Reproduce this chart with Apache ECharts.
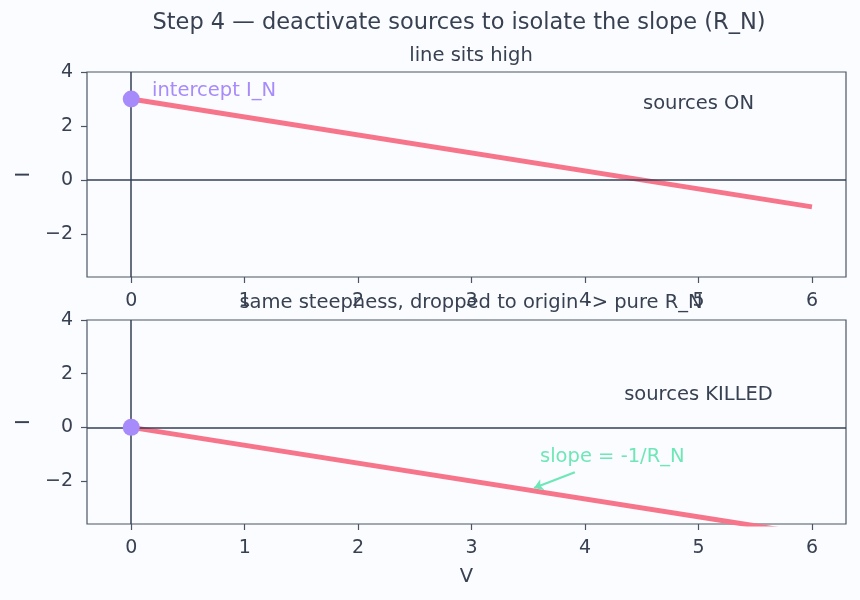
<!DOCTYPE html>
<html>
<head>
<meta charset="utf-8">
<script src="https://cdn.jsdelivr.net/npm/echarts@6/dist/echarts.min.js"></script>
<style>
  html, body { margin: 0; padding: 0; background: #fbfcff; }
  #chart { width: 860px; height: 600px; }
</style>
</head>
<body>
<div id="chart"></div>
<script>
  // data
  var lineOn = [[0, 3], [6, -1]];
  var lineKilled = [[0, 0], [6, -4]];
  var interceptOn = [[0, 3]];
  var interceptKilled = [[0, 0]];
  var xTicks = [0, 1, 2, 3, 4, 5, 6];
  var yTicks = [-2, 0, 2, 4];
  var slopeArrow = [[3.91, -1.67], [3.55, -2.26]];

  var textColor = '#374151';
  var spineColor = '#4b5563';
  var fontFamily = 'DejaVu Sans';

  var chart = echarts.init(document.getElementById('chart'));

  function xAxis(idx, name) {
    return {
      type: 'value', gridIndex: idx, min: -0.39, max: 6.3,
      name: name, nameLocation: 'middle', nameGap: 43,
      nameTextStyle: { color: textColor, fontSize: 19.5, fontFamily: fontFamily },
      axisLine: { show: false, onZero: false },
      axisTick: { show: true, inside: false, length: 6, customValues: xTicks, lineStyle: { color: spineColor, width: 1.2 } },
      axisLabel: { customValues: xTicks, color: textColor, fontSize: 19, fontFamily: fontFamily, margin: 15 },
      splitLine: { show: false }
    };
  }
  function yAxis(idx) {
    return {
      type: 'value', gridIndex: idx, min: -3.6, max: 4,
      name: 'I', nameLocation: 'middle', nameGap: 52, nameRotate: 90,
      nameTextStyle: { color: textColor, fontSize: 19.5, fontFamily: fontFamily },
      axisLine: { show: false, onZero: false },
      axisTick: { show: true, inside: false, length: 6, customValues: yTicks, lineStyle: { color: spineColor, width: 1.2 } },
      axisLabel: {
        customValues: yTicks, color: textColor, fontSize: 19, fontFamily: fontFamily, margin: 14,
        formatter: function (v) { return v < 0 ? '\u2212' + Math.abs(v) : String(v); }
      },
      splitLine: { show: false }
    };
  }
  function zeroLines() {
    return {
      silent: true, symbol: 'none', label: { show: false },
      lineStyle: { color: '#334155', width: 1.5, type: 'solid' },
      data: [{ xAxis: 0 }, { yAxis: 0 }]
    };
  }
  function textPoint(idx, pos, text, color) {
    return {
      type: 'scatter', xAxisIndex: idx, yAxisIndex: idx, symbolSize: 0, silent: true,
      data: [pos], itemStyle: { opacity: 1 },
      label: { show: true, position: 'inside', formatter: text, color: color, fontSize: 19.5, fontFamily: fontFamily }
    };
  }

  var option = {
    backgroundColor: '#fbfcff',
    animation: false,
    title: [
      { text: 'Step 4 \u2014 deactivate sources to isolate the slope (R_N)', left: 454, top: 7, textAlign: 'center',
        textStyle: { color: textColor, fontSize: 22.5, fontWeight: 'normal', fontFamily: fontFamily } },
      { text: 'line sits high', left: 466, top: 41, textAlign: 'center',
        textStyle: { color: textColor, fontSize: 19.5, fontWeight: 'normal', fontFamily: fontFamily } },
      { text: 'same steepness, dropped to origin -> pure R_N', left: 466, top: 288, textAlign: 'center',
        textStyle: { color: textColor, fontSize: 19.5, fontWeight: 'normal', fontFamily: fontFamily } }
    ],
    grid: [
      { left: 87, width: 759, top: 72, height: 205, outerBoundsMode: 'none', containLabel: false,
        show: true, borderColor: spineColor, borderWidth: 1.2, backgroundColor: 'transparent' },
      { left: 87, width: 759, top: 320, height: 204, outerBoundsMode: 'none', containLabel: false,
        show: true, borderColor: spineColor, borderWidth: 1.2, backgroundColor: 'transparent' }
    ],
    xAxis: [xAxis(0, ''), xAxis(1, 'V')],
    yAxis: [yAxis(0), yAxis(1)],
    series: [
      { type: 'line', xAxisIndex: 0, yAxisIndex: 0, data: lineOn, showSymbol: false, clip: true,
        lineStyle: { color: '#f7758a', width: 5 }, markLine: zeroLines(), z: 3 },
      { type: 'scatter', xAxisIndex: 0, yAxisIndex: 0, data: interceptOn, symbolSize: 17,
        itemStyle: { color: '#a78bfa', opacity: 1 }, z: 10 },
      { type: 'line', xAxisIndex: 1, yAxisIndex: 1, data: lineKilled, showSymbol: false, clip: true,
        lineStyle: { color: '#f7758a', width: 5 }, markLine: zeroLines(), z: 3 },
      { type: 'scatter', xAxisIndex: 1, yAxisIndex: 1, data: interceptKilled, symbolSize: 17,
        itemStyle: { color: '#a78bfa', opacity: 1 }, z: 10 },
      textPoint(0, [0.73, 3.3], 'intercept I_N', '#a78bfa'),
      textPoint(0, [5, 2.8], 'sources ON', textColor),
      textPoint(1, [5, 1.2], 'sources KILLED', textColor),
      textPoint(1, [4.24, -1.1], 'slope = -1/R_N', '#6ee7b7'),
      { type: 'lines', coordinateSystem: 'cartesian2d', xAxisIndex: 1, yAxisIndex: 1, silent: true,
        symbol: ['none', 'arrow'], symbolSize: 9,
        lineStyle: { color: '#6ee7b7', width: 2.2, opacity: 1 },
        data: [{ coords: slopeArrow }], z: 5 }
    ]
  };
  chart.setOption(option);
</script>
</body>
</html>
